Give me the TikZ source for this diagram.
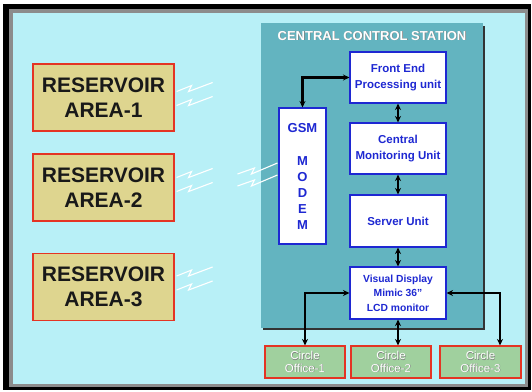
\documentclass[tikz,border=0pt]{standalone}
\usepackage{fontspec}
\setmainfont{Liberation Sans}
\usetikzlibrary{arrows.meta, positioning}
\definecolor{skyfill}{RGB}{184,240,247}
\definecolor{ccsteal}{RGB}{99,180,192}
\definecolor{resfill}{RGB}{222,213,143}
\definecolor{cofill}{RGB}{160,208,158}
\definecolor{edgered}{RGB}{228,52,36}
\definecolor{unitblue}{RGB}{30,40,210}
\newcommand{\shtext}[1]{\makebox[0pt][l]{\kern0.6pt\raisebox{-0.6pt}{\textcolor{black!50}{#1}}}#1}

\begin{document}
\begin{tikzpicture}[x=1pt, y=-1pt,
  resbox/.style={draw=edgered, line width=1.2pt, fill=resfill, minimum width=141pt, minimum height=67pt,
    align=center, text=black!90, font=\fontsize{21}{25}\selectfont\bfseries},
  unit/.style={draw=unitblue, line width=1.1pt, fill=white, minimum width=96pt, minimum height=51pt,
    align=center, text=unitblue, font=\fontsize{11.5}{16}\selectfont\bfseries},
  office/.style={draw=edgered, line width=1.1pt, fill=cofill, minimum width=80pt, minimum height=32pt,
    align=center, text=white, font=\fontsize{11.5}{12.5}\selectfont},
  link/.style={line width=2.2pt, {Stealth[length=6.5pt,width=6pt]}-{Stealth[length=6.5pt,width=6pt]}},
  zap/.style={white, line width=1.1pt}]
  \useasboundingbox (0,0) rectangle (532,391);
  \fill[white] (0,0) rectangle (532,391);
  \fill[black] (3,4) rectangle (531,390);
  \fill[black!45] (9,9) rectangle (528,387);
  \fill[skyfill] (13,13) rectangle (525,384);

  \fill[black!80] (263,26) rectangle (485,330);
  \node[fill=ccsteal, minimum width=222pt, minimum height=305pt, inner sep=0pt] (ccs) at (372,175.5) {};
  \node[text=white, font=\fontsize{13}{15}\selectfont\bfseries] (ttl) at (372,36) {\shtext{CENTRAL CONTROL STATION}};

  \node[resbox] (res1) at (103.5,97.5) {RESERVOIR\\AREA-1};
  \node[resbox] (res2) at (103.5,187.5) {RESERVOIR\\AREA-2};
  \node[resbox] (res3) at (103.5,287) {RESERVOIR\\AREA-3};

  \foreach \r/\dy in {res1/-6, res2/-10, res3/-11} {
    \draw[zap] (\r.east) ++(2,\dy) -- ++(15,-6) -- ++(-3,6) -- ++(24,-9);
    \draw[zap] (\r.east) ++(2,\dy+14) -- ++(15,-6) -- ++(-3,6) -- ++(24,-9);
  }

  \node[unit, minimum width=47pt, minimum height=136pt, font=\fontsize{13}{16}\selectfont\bfseries] (gsm) at (302.5,176)
    {GSM\\[17pt]M\\O\\D\\E\\M};
  \draw[zap] (gsm.west) ++(-41,-2) -- ++(17,-6) -- ++(-3,6) -- ++(26,-11);
  \draw[zap] (gsm.west) ++(-41,10) -- ++(17,-6) -- ++(-3,6) -- ++(26,-11);

  \node[unit] (fep) at (398,77.5) {Front End\\Processing unit};
  \node[unit] (cmu) at (398,148.5) {Central\\Monitoring Unit};
  \node[unit, minimum height=52pt] (srv) at (398,221) {Server Unit};
  \node[unit, minimum height=52pt, font=\fontsize{10.3}{14.5}\selectfont\bfseries] (vdu) at (398,293)
    {Visual Display\\Mimic 36”\\LCD monitor};

  \node[office] (co1) at (305,362) {\shtext{Circle}\\\shtext{Office-1}};
  \node[office] (co2) at (391,362) {\shtext{Circle}\\\shtext{Office-2}};
  \node[office, minimum width=81pt] (co3) at (480.5,362) {\shtext{Circle}\\\shtext{Office-3}};

  \draw[link] (gsm.north) |- (fep.west);
  \draw[link] (fep.south) -- (cmu.north);
  \draw[link] (cmu.south) -- (srv.north);
  \draw[link] (srv.south) -- (vdu.north);
  \draw[link] (vdu.west) -| (co1.north);
  \draw[link] (vdu.south) -- (vdu.south |- co2.north);
  \draw[link] (vdu.east) -| ([xshift=19.5pt]co3.north);
\end{tikzpicture}
\end{document}
